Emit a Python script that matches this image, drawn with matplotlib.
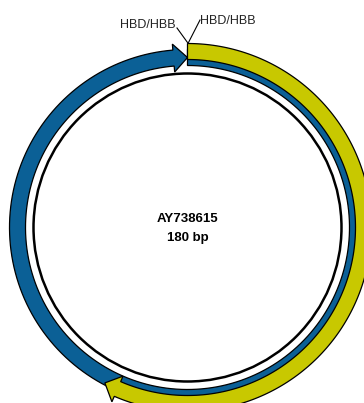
'''
Circular plasmid map of AY738615 with two HBD/HBB features
'''

import numpy as np
import matplotlib.pyplot as plt
from matplotlib.patches import Polygon, Circle

plt.rcParams['font.family'] = ['Liberation Sans', 'DejaVu Sans']

# Sequence and features
seq_name = 'AY738615'
seq_len = 180
feat_names = ['HBD/HBB', 'HBD/HBB']
feat_start = [1, 1]
feat_end = [180, 104]
feat_colors = ['#0b6096', '#c8c800']
feat_radius = [170, 176]   # mid radius of each arrow band

# Geometry of the map (pixels)
cx, cy = 187.5, 227.5
r_backbone = 154
band_w = 16
head_w = 28
head_len = 14

figure, axis = plt.subplots(figsize=(3.64, 4.03), dpi=100)
figure.subplots_adjust(0, 0, 1, 1)
axis.set_xlim(0, 364)
axis.set_ylim(403, 0)
axis.set_axis_off()


def to_xy(theta, r):
    # theta is clockwise from 12 o'clock, in radians
    return cx + r * np.sin(theta), cy - r * np.cos(theta)


def arrow(start, end, r_mid, color):
    t0 = (start - 1) / seq_len * 2 * np.pi
    t1 = end / seq_len * 2 * np.pi
    th = head_len / r_mid
    tb = t1 - th
    arc = np.linspace(t0, tb, 200)
    r_out = r_mid + band_w / 2
    r_in = r_mid - band_w / 2
    pts = [to_xy(t, r_out) for t in arc]
    pts.append(to_xy(tb, r_mid + head_w / 2))
    pts.append(to_xy(t1, r_mid))
    pts.append(to_xy(tb, r_mid - head_w / 2))
    pts += [to_xy(t, r_in) for t in arc[::-1]]
    axis.add_patch(Polygon(pts, closed=True, facecolor=color,
                           edgecolor='black', linewidth=0.9, joinstyle='miter'))


# Backbone circle
axis.add_patch(Circle((cx, cy), r_backbone, fill=False, edgecolor='black', linewidth=1.8))

# Feature arrows
for s, e, r, c in zip(feat_start, feat_end, feat_radius, feat_colors):
    arrow(s, e, r, c)

# Feature labels with leader lines
x0, y0 = to_xy(0, 185)
axis.plot([x0, 177], [y0, 28], color='black', linewidth=0.8)
axis.plot([x0 + 1, 200], [y0, 20], color='black', linewidth=0.8)
axis.text(176, 25, feat_names[0], ha='right', va='center', fontsize=9, color='#222222')
axis.text(200, 21, feat_names[1], ha='left', va='center', fontsize=9, color='#222222')

# Centre text
axis.text(cx, cy - 9, seq_name, ha='center', va='center', fontsize=9.5, fontweight='bold')
axis.text(cx, cy + 10, f'{seq_len} bp', ha='center', va='center', fontsize=9.5, fontweight='bold')

plt.savefig('out.png', dpi=100)
